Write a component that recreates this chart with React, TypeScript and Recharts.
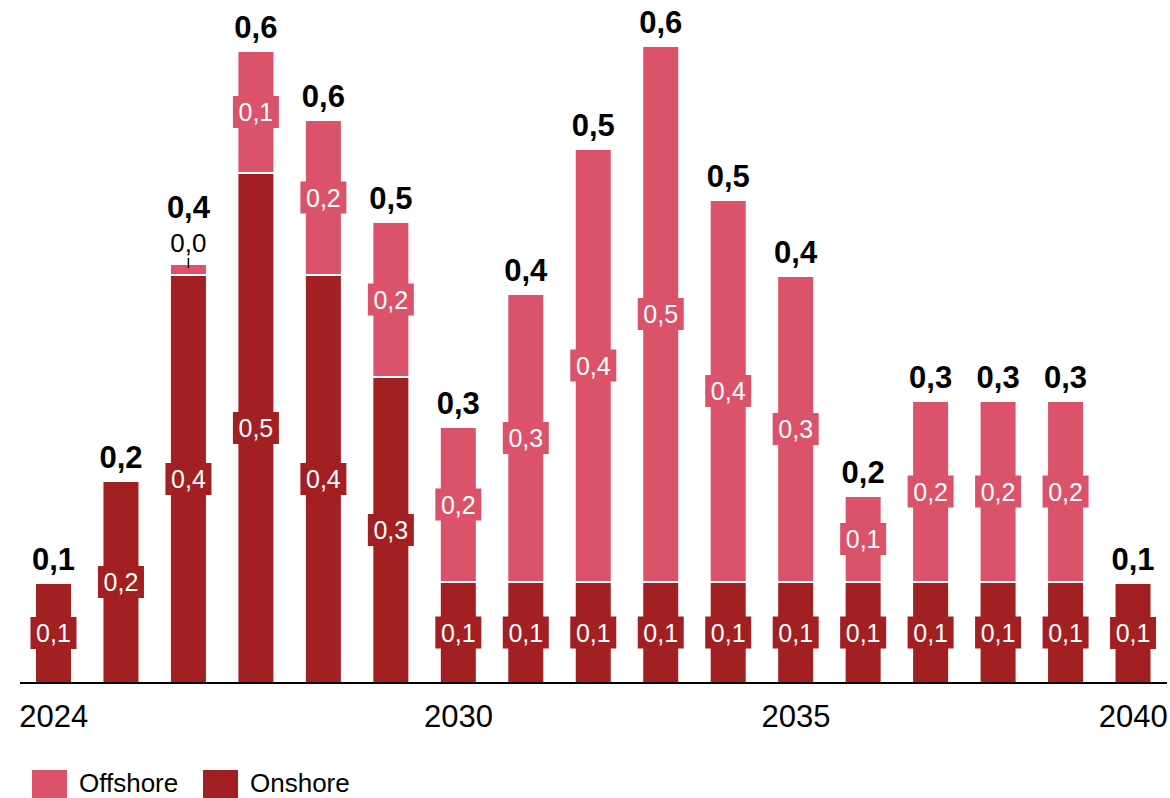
import React from 'react';
import { BarChart, Bar, XAxis, YAxis, LabelList, Legend } from 'recharts';

const years = ['2024', '2025', '2026', '2027', '2028', '2029', '2030', '2031', '2032', '2033', '2034', '2035', '2036', '2037', '2038', '2039', '2040'];
const onshore = [0.10, 0.202, 0.408, 0.51, 0.408, 0.306, 0.101, 0.101, 0.101, 0.101, 0.101, 0.101, 0.101, 0.101, 0.101, 0.101, 0.10];
const offshore = [0, 0, 0.011, 0.122, 0.155, 0.155, 0.155, 0.288, 0.433, 0.536, 0.382, 0.306, 0.086, 0.181, 0.181, 0.181, 0];
const tickYears = ['2024', '2030', '2035', '2040'];

const ON_COLOR = '#A21F22';
const OFF_COLOR = '#DB536B';
const FONT = '"Liberation Sans", Arial, Helvetica, sans-serif';

const data = years.map((y, i) => ({
  year: y,
  onshore: onshore[i],
  offshore: offshore[i],
  total: onshore[i] + offshore[i],
}));

const fmt = (v: number) => (Math.round(v * 10 + 1e-6) / 10).toFixed(1).replace('.', ',');

const SMALL = 25;

const makeInner = (color: string) => (props: any) => {
  const { x, y, width, height, value } = props;
  if (value == null || Number(value) <= 0) return null;
  const cx = Number(x) + Number(width) / 2;
  const top = Number(y);
  const h = Number(height);
  if (h < SMALL) {
    return (
      <g>
        <line x1={cx} x2={cx} y1={top - 6} y2={top + 4} stroke="#000" strokeWidth={1.5} />
        <text x={cx} y={top - 12} textAnchor="middle" fontSize={26} fill="#000" fontFamily={FONT}>
          {fmt(Number(value))}
        </text>
      </g>
    );
  }
  const cy = top + h / 2;
  return (
    <g>
      <rect x={cx - 23} y={cy - 16} width={46} height={32} fill={color} />
      <text x={cx} y={cy} dy="0.36em" textAnchor="middle" fontSize={25} fill="#fff" fontFamily={FONT}>
        {fmt(Number(value))}
      </text>
    </g>
  );
};

// Rendered on the onshore bar; value is the whole data row, so the stack top is
// derived from the onshore rectangle's own scale.
const renderTotal = (props: any) => {
  const { x, y, width, height, value } = props;
  const row = value as { onshore: number; offshore: number; total: number };
  if (!row || typeof row !== 'object') return null;
  const cx = Number(x) + Number(width) / 2;
  const h = Number(height);
  const base = Number(y) + h;
  const pxPerUnit = h / row.onshore;
  const top = base - row.total * pxPerUnit;
  const offH = row.offshore * pxPerUnit;
  const shift = row.offshore > 0 && offH < SMALL ? 46 : 13;
  return (
    <text x={cx} y={top - shift} textAnchor="middle" fontSize={31} fontWeight="bold" fill="#000" fontFamily={FONT}>
      {fmt(row.total)}
    </text>
  );
};

const renderTick = (props: any) => {
  const { x, y, payload } = props;
  if (!tickYears.includes(payload.value)) return null;
  return (
    <text x={x} y={y} dy="0.71em" textAnchor="middle" fontSize={31} fill="#000" fontFamily={FONT}>
      {payload.value}
    </text>
  );
};

const renderLegend = () => (
  <div style={{ position: 'relative', width: 1170, height: 40, fontFamily: FONT }}>
    <div style={{ position: 'absolute', left: 32, top: 12, width: 35, height: 28, background: OFF_COLOR }} />
    <div style={{ position: 'absolute', left: 79, top: 15, fontSize: 26, lineHeight: '20px', color: '#000', whiteSpace: 'nowrap' }}>Offshore</div>
    <div style={{ position: 'absolute', left: 203, top: 12, width: 35, height: 28, background: ON_COLOR }} />
    <div style={{ position: 'absolute', left: 250, top: 15, fontSize: 26, lineHeight: '20px', color: '#000', whiteSpace: 'nowrap' }}>Onshore</div>
  </div>
);

export default function App() {
  return (
    <div style={{ position: 'absolute', left: 0, top: 0, width: 1170, height: 798, overflow: 'hidden', background: '#fff' }}>
      <BarChart
        width={1170}
        height={798}
        data={data}
        margin={{ top: 33, right: 3, bottom: 0, left: 20 }}
      >
        <XAxis
          dataKey="year"
          interval={0}
          tickLine={false}
          tick={renderTick}
          tickMargin={16}
          height={75}
          axisLine={{ stroke: '#000', strokeWidth: 2 }}
        />
        <YAxis hide domain={[0, 0.65]} allowDataOverflow />
        <Legend verticalAlign="bottom" align="left" content={renderLegend} wrapperStyle={{ left: 0, bottom: 0, width: 1170, height: 40 }} />
        <Bar dataKey="onshore" stackId="a" fill={ON_COLOR} stroke="#fff" strokeWidth={2} barSize={37} isAnimationActive={false}>
          <LabelList dataKey="onshore" content={makeInner(ON_COLOR)} />
          <LabelList dataKey={(d: any) => d} content={renderTotal} />
        </Bar>
        <Bar dataKey="offshore" stackId="a" fill={OFF_COLOR} stroke="#fff" strokeWidth={2} barSize={37} isAnimationActive={false}>
          <LabelList dataKey="offshore" content={makeInner(OFF_COLOR)} />
        </Bar>
      </BarChart>
    </div>
  );
}
